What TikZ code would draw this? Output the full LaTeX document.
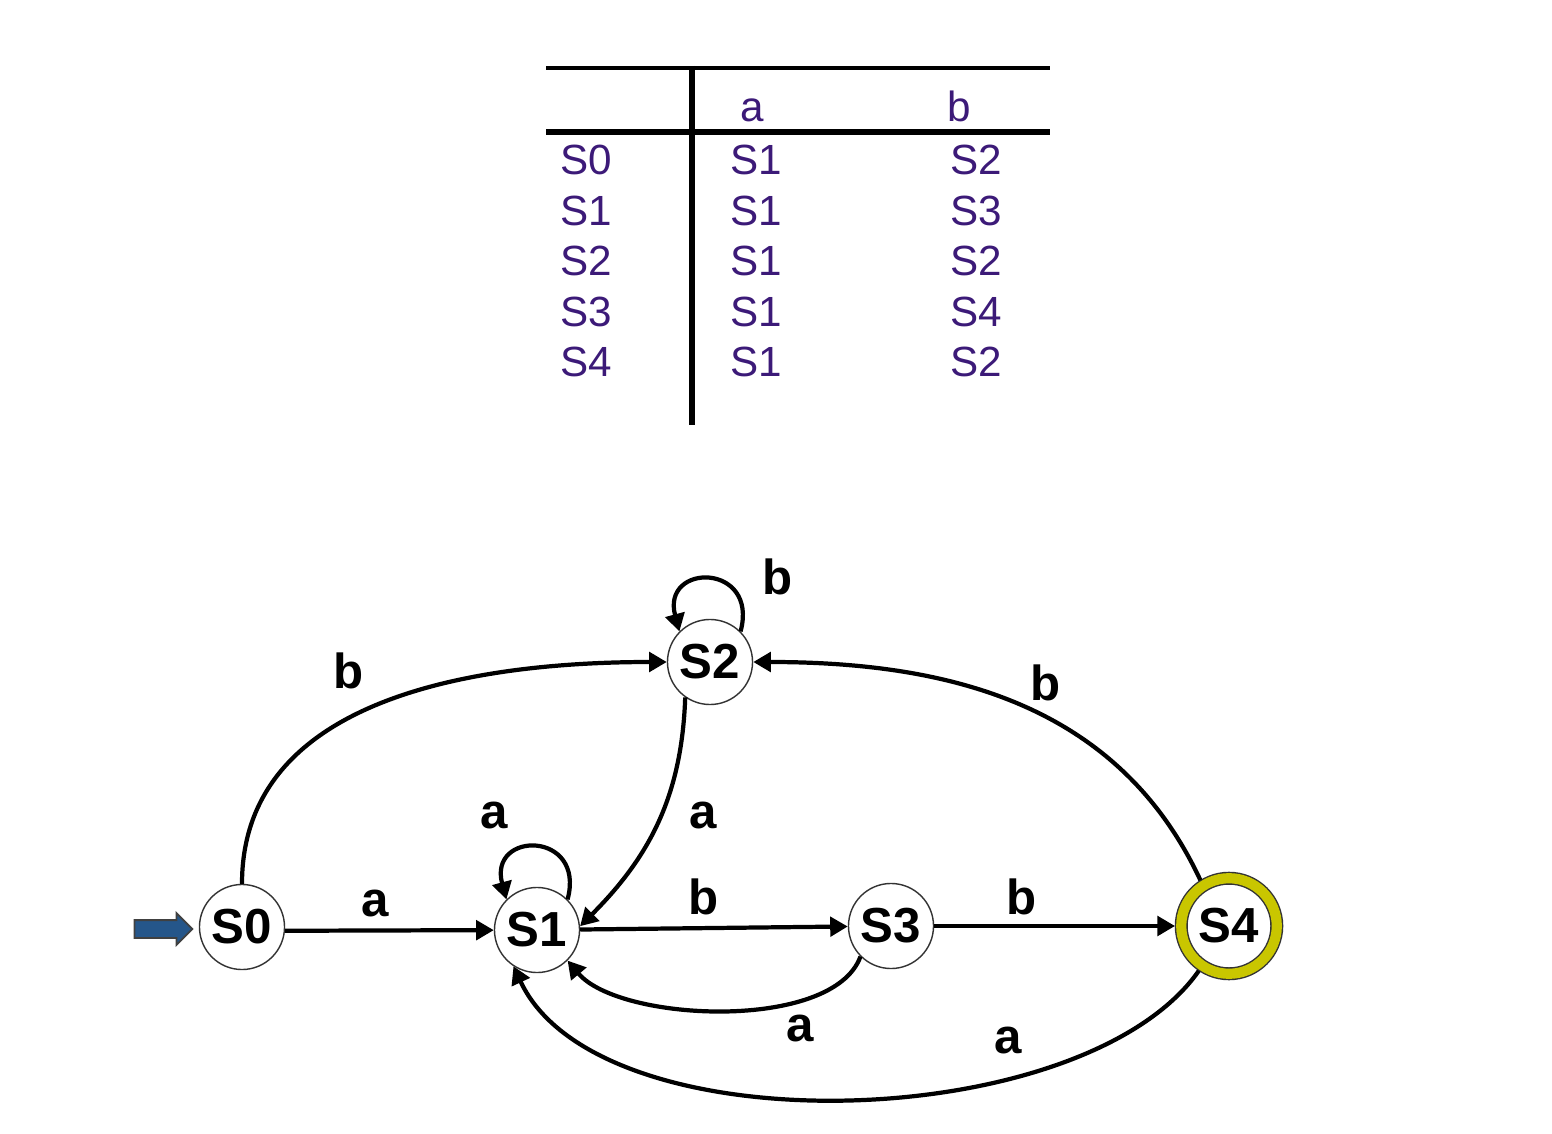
\documentclass[tikz,border=0pt]{standalone}
\usepackage{fontspec}
\setmainfont{Liberation Sans}
\usetikzlibrary{arrows.meta,shapes.arrows}
\definecolor{tablePurple}{HTML}{3C1A78}
\definecolor{acceptYellow}{HTML}{C9C600}
\definecolor{startBlue}{HTML}{25568A}

\begin{document}
\begin{tikzpicture}[x=0.01cm, y=-0.01cm,
    state/.style={circle, draw=black!80, line width=0.4pt, fill=white, minimum size=0.85cm, inner sep=0pt, font=\fontsize{14}{14}\selectfont\bfseries},
    accept/.style={state, minimum size=0.955cm, double=acceptYellow, double distance=2.9pt, outer sep=0.062cm},
    trans/.style={line width=1.2pt, -{Triangle[length=5pt, width=5.5pt]}},
    lbl/.style={inner sep=0pt, font=\fontsize{14}{14}\selectfont\bfseries},
    cell/.style={anchor=base west, inner sep=0pt, text=tablePurple, font=\fontsize{12}{12}\selectfont},
    rule/.style={line width=1.4pt}]
\useasboundingbox (0,0) rectangle (1552,1134);

% transition table
\draw[rule] (546,68) -- (1050,68);
\draw[rule, line width=1.6pt] (546,132) -- (1050,132);
\draw[rule, line width=1.6pt] (692,66) -- (692,425);
\node[cell] (headA) at (740,122) {a};
\node[cell] (headB) at (947,122) {b};
\foreach \st/\ta/\tb [count=\r from 0] in {S0/S1/S2, S1/S1/S3, S2/S1/S2, S3/S1/S4, S4/S1/S2}{
    \node[cell] (row\r) at (560,{175+50.5*\r}) {\st};
    \node[cell] (a\r) at (730,{175+50.5*\r}) {\ta};
    \node[cell] (b\r) at (950,{175+50.5*\r}) {\tb};
}

% automaton
\node[state] (s0) at (242,927) {S0};
\node[state] (s1) at (537,930) {S1};
\node[state] (s2) at (710,662) {S2};
\node[state] (s3) at (891,926) {S3};
\node[accept] (s4) at (1229,926) {S4};
\node[shape=single arrow, draw=black!75, line width=0.5pt, fill=startBlue, inner xsep=0pt, inner ysep=0.08cm,
      minimum height=0.58cm, minimum width=0.30cm, single arrow head extend=0.07cm] (start) at (159,929) {};

\path[trans]
    (s0.-5) edge (s1)
    (s0) edge[out=90, in=180] (s2)
    (s2.45) edge[out=75, in=105, looseness=3] (s2.135)
    (s1.45) edge[out=75, in=105, looseness=3] (s1.135)
    (s2.235) edge[out=268, in=45] (s1.5)
    (s1) edge (s3)
    (s3.225) edge[out=250, in=310, looseness=0.7] (s1.315)
    (s3) edge (s4)
    (s4.236) edge[out=235, in=295, looseness=0.75] (s1.237)
    (s4.122) edge[out=115, in=0] (s2)
;

\node[lbl] (la01) at (375,903) {a};
\node[lbl] (lb02) at (349,671) {b};
\node[lbl] (lb22) at (778,577) {b};
\node[lbl] (la11) at (494,815) {a};
\node[lbl] (la21) at (703,815) {a};
\node[lbl] (lb13) at (704,897) {b};
\node[lbl] (la31) at (800,1028) {a};
\node[lbl] (lb34) at (1022,897) {b};
\node[lbl] (la41) at (1008,1040) {a};
\node[lbl] (lb42) at (1046,683) {b};
\end{tikzpicture}
\end{document}
